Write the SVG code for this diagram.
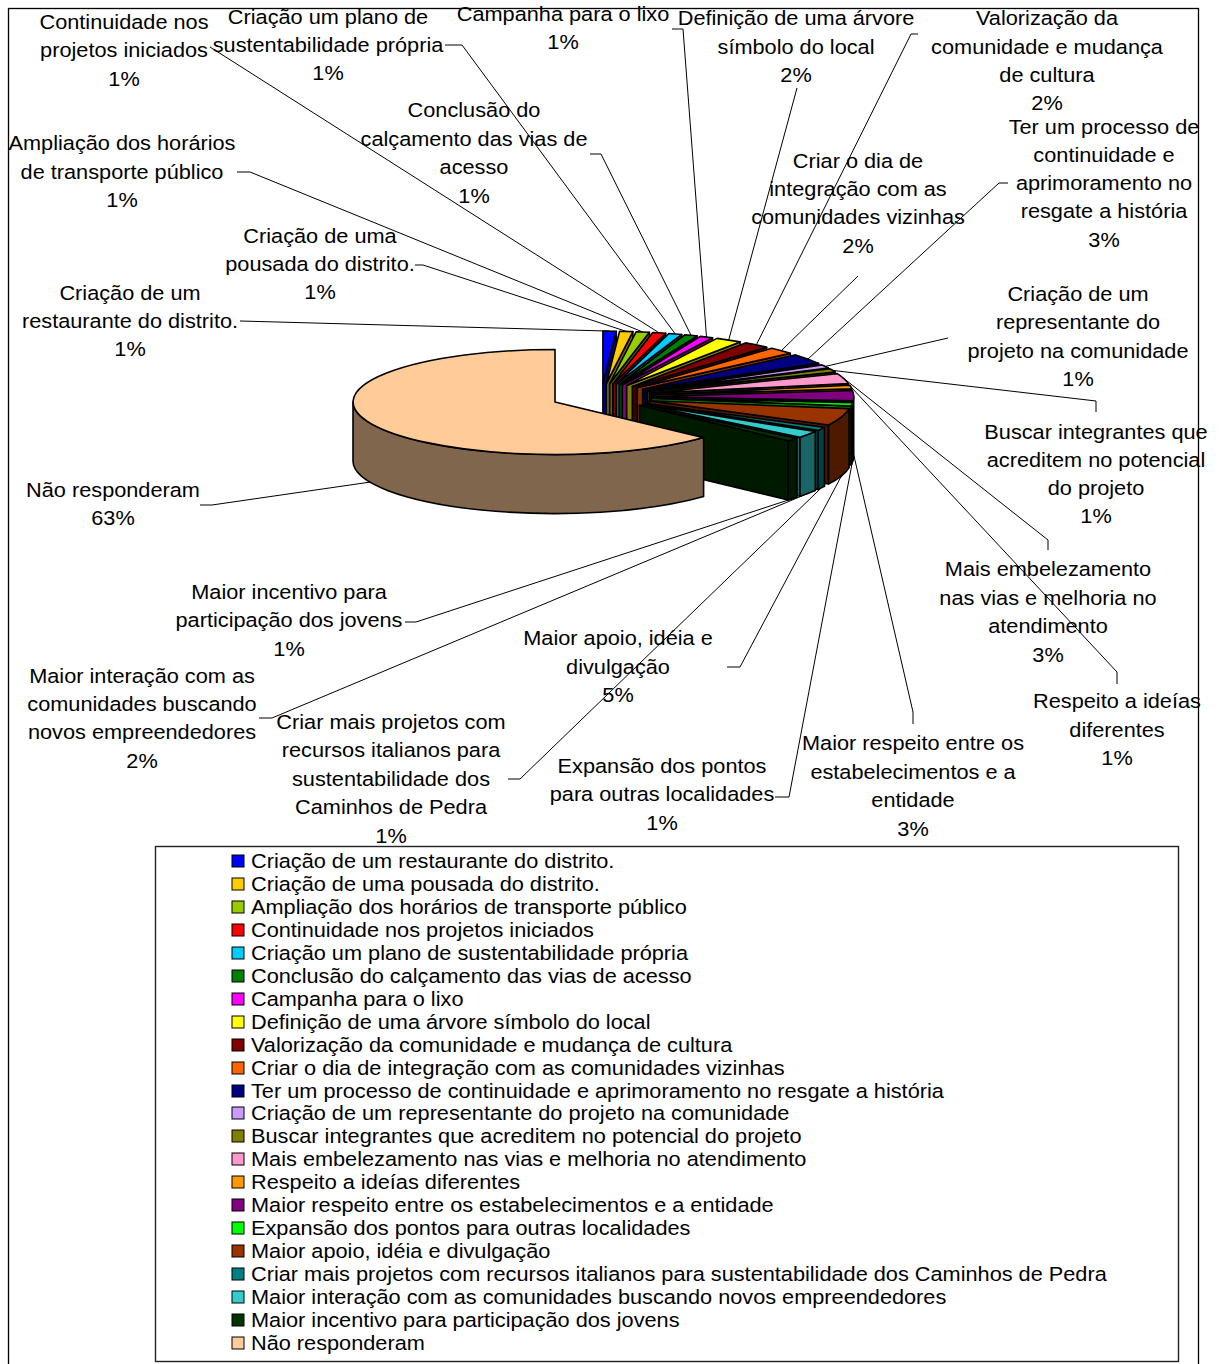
<svg xmlns="http://www.w3.org/2000/svg" width="1221" height="1364" viewBox="0 0 1221 1364">
  <style>
    .t { font-family: "Liberation Sans", Arial, sans-serif; font-size: 20.5px; fill: #000; }
    .c { text-anchor: middle; }
    .pie path { stroke: #000; stroke-width: 1.6; stroke-linejoin: round; }
    .ld { fill: none; stroke: #000; stroke-width: 1; }
    .sw { stroke: #000; stroke-width: 1; }
  </style>

  <rect x="0" y="0" width="1221" height="1364" fill="#fff"/>
  <!-- chart area frame -->
  <rect x="8.5" y="8.5" width="1190" height="1380" fill="none" stroke="#000" stroke-width="1.3"/>

  <!-- 3D exploded pie: each slice = end face, outer wall, top face; drawn back to front -->
  <g class="pie" id="pie">
    <g id="slice-restaurante">
      <path fill="#000080" d="M602.9,383.6 L616.3,331.2 L616.3,390.2 L602.9,442.6 Z"/>
      <path fill="#0000FF" d="M602.9,383.6 L602.9,331.1 A202,52.5 0 0 1 616.3,331.2 Z"/>
    </g>
    <g id="slice-pousada">
      <path fill="#806600" d="M606.3,383.7 L632.9,331.6 L632.9,390.6 L606.3,442.7 Z"/>
      <path fill="#FFCC00" d="M606.3,383.7 L619.6,331.3 A202,52.5 0 0 1 632.9,331.6 Z"/>
    </g>
    <g id="slice-ampliacao">
      <path fill="#4D6600" d="M609.6,383.8 L649.4,332.3 L649.4,391.3 L609.6,442.8 Z"/>
      <path fill="#99CC00" d="M609.6,383.8 L636.2,331.7 A202,52.5 0 0 1 649.4,332.3 Z"/>
    </g>
    <g id="slice-continuidade">
      <path fill="#800000" d="M612.8,384 L665.7,333.3 L665.7,392.3 L612.8,443 Z"/>
      <path fill="#FF0000" d="M612.8,384 L652.7,332.5 A202,52.5 0 0 1 665.7,333.3 Z"/>
    </g>
    <g id="slice-plano">
      <path fill="#006680" d="M616.1,384.2 L681.7,334.5 L681.7,393.5 L616.1,443.2 Z"/>
      <path fill="#00CCFF" d="M616.1,384.2 L668.9,333.5 A202,52.5 0 0 1 681.7,334.5 Z"/>
    </g>
    <g id="slice-calcamento">
      <path fill="#004000" d="M619.2,384.5 L697.3,336 L697.3,395 L619.2,443.5 Z"/>
      <path fill="#008000" d="M619.2,384.5 L684.8,334.8 A202,52.5 0 0 1 697.3,336 Z"/>
    </g>
    <g id="slice-campanha">
      <path fill="#800080" d="M622.3,384.8 L712.5,337.8 L712.5,396.8 L622.3,443.8 Z"/>
      <path fill="#FF00FF" d="M622.3,384.8 L700.4,336.4 A202,52.5 0 0 1 712.5,337.8 Z"/>
    </g>
    <g id="slice-arvore">
      <path fill="#808000" d="M626.7,385.4 L740,341.9 L740,400.9 L626.7,444.4 Z"/>
      <path fill="#FFFF00" d="M626.7,385.4 L717,338.4 A202,52.5 0 0 1 740,341.9 Z"/>
    </g>
    <g id="slice-valorizacao">
      <path fill="#400000" d="M632.3,386.4 L766.6,347.2 L766.6,406.2 L632.3,445.4 Z"/>
      <path fill="#800000" d="M632.3,386.4 L745.5,342.9 A202,52.5 0 0 1 766.6,347.2 Z"/>
    </g>
    <g id="slice-dia-integracao">
      <path fill="#803300" d="M637.3,387.5 L790.3,353.3 L790.3,412.3 L637.3,446.5 Z"/>
      <path fill="#FF6600" d="M637.3,387.5 L771.6,348.3 A202,52.5 0 0 1 790.3,353.3 Z"/>
    </g>
    <g id="slice-processo">
      <path fill="#000040" d="M642.6,389.2 L818.6,363.4 L818.6,422.4 L642.6,448.2 Z"/>
      <path fill="#000080" d="M642.6,389.2 L795.7,354.9 A202,52.5 0 0 1 818.6,363.4 Z"/>
    </g>
    <g id="slice-representante">
      <path fill="#664D80" d="M646.1,390.7 L828.3,368 L828.3,427 L646.1,449.7 Z"/>
      <path fill="#CC99FF" d="M646.1,390.7 L822.1,364.9 A202,52.5 0 0 1 828.3,368 Z"/>
    </g>
    <g id="slice-integrantes">
      <path fill="#404000" d="M647.5,391.5 L835.1,372 L835.1,431 L647.5,450.5 Z"/>
      <path fill="#808000" d="M647.5,391.5 L829.7,368.8 A202,52.5 0 0 1 835.1,372 Z"/>
    </g>
    <g id="slice-embelezamento">
      <path fill="#804D66" d="M649.8,393.1 L848.4,383.6 L848.4,442.6 L649.8,452.1 Z"/>
      <path fill="#FF99CC" d="M649.8,393.1 L837.3,373.6 A202,52.5 0 0 1 848.4,383.6 Z"/>
    </g>
    <g id="slice-respeito-ideias">
      <path fill="#804D00" d="M651.2,394.8 L851.8,388.7 L851.8,447.7 L651.2,453.8 Z"/>
      <path fill="#FF9900" d="M651.2,394.8 L849.9,385.3 A202,52.5 0 0 1 851.8,388.7 Z"/>
    </g>
    <g id="slice-respeito-estabelecimentos">
      <path fill="#400040" d="M651.7,396.5 L853.1,400.9 L853.1,459.9 L651.7,455.5 Z"/>
      <path fill="#400040" d="M853.7,396.5 A202,52.5 0 0 1 853.1,400.9 L853.1,459.9 A202,52.5 0 0 0 853.7,455.5 Z"/>
      <path fill="#800080" d="M651.7,396.5 L852.4,390.5 A202,52.5 0 0 1 853.1,400.9 Z"/>
    </g>
    <g id="slice-expansao">
      <path fill="#008000" d="M651.4,398.3 L851.2,406 L851.2,465 L651.4,457.3 Z"/>
      <path fill="#008000" d="M852.7,402.6 A202,52.5 0 0 1 851.2,406 L851.2,465 A202,52.5 0 0 0 852.7,461.6 Z"/>
      <path fill="#00FF00" d="M651.4,398.3 L852.7,402.6 A202,52.5 0 0 1 851.2,406 Z"/>
    </g>
    <g id="slice-apoio">
      <path fill="#4D1A00" d="M649.3,400.8 L828.5,425 L828.5,484 L649.3,459.8 Z"/>
      <path fill="#4D1A00" d="M849.1,408.6 A202,52.5 0 0 1 828.5,425 L828.5,484 A202,52.5 0 0 0 849.1,467.6 Z"/>
      <path fill="#993300" d="M649.3,400.8 L849.1,408.6 A202,52.5 0 0 1 828.5,425 Z"/>
    </g>
    <g id="slice-italianos">
      <path fill="#004040" d="M645.3,403.2 L817.9,430.4 L817.9,489.4 L645.3,462.2 Z"/>
      <path fill="#004040" d="M824.5,427.4 A202,52.5 0 0 1 817.9,430.4 L817.9,489.4 A202,52.5 0 0 0 824.5,486.4 Z"/>
      <path fill="#008080" d="M645.3,403.2 L824.5,427.4 A202,52.5 0 0 1 817.9,430.4 Z"/>
    </g>
    <g id="slice-interacao">
      <path fill="#1A6666" d="M642.6,404.3 L800,437.2 L800,496.2 L642.6,463.3 Z"/>
      <path fill="#1A6666" d="M815.3,431.5 A202,52.5 0 0 1 800,437.2 L800,496.2 A202,52.5 0 0 0 815.3,490.5 Z"/>
      <path fill="#33CCCC" d="M642.6,404.3 L815.3,431.5 A202,52.5 0 0 1 800,437.2 Z"/>
    </g>
    <g id="slice-incentivo">
      <path fill="#001A00" d="M639.5,405.3 L788.1,440.9 L788.1,499.9 L639.5,464.3 Z"/>
      <path fill="#001A00" d="M796.9,438.2 A202,52.5 0 0 1 788.1,440.9 L788.1,499.9 A202,52.5 0 0 0 796.9,497.2 Z"/>
      <path fill="#003300" d="M639.5,405.3 L796.9,438.2 A202,52.5 0 0 1 788.1,440.9 Z"/>
    </g>
    <g id="slice-nao-responderam">
      <path fill="#80664D" d="M703.6,437.6 A202,52.5 0 0 1 353,402 L353,461 A202,52.5 0 0 0 703.6,496.6 Z"/>
      <path fill="#FFCC99" d="M555,402 L703.6,437.6 A202,52.5 0 1 1 555,349.5 Z"/>
    </g>
  </g>

  <!-- leader lines from data labels to slices -->
  <g id="connectors" class="ld">
    <polyline points="240,321 609.6,331.1"/>
    <polyline points="415,265 423,265 626.3,331.4"/>
    <polyline points="237,172 250,172 642.8,332"/>
    <polyline points="210,47 659.2,332.9"/>
    <polyline points="445,45 462,45 675.3,334"/>
    <polyline points="590,154 601,154 691.1,335.4"/>
    <polyline points="672,29 683,29 706.5,337.1"/>
    <polyline points="797,88 728.7,340.1"/>
    <polyline points="918,34 911,34 756.3,344.9"/>
    <polyline points="858,276 781.3,350.7"/>
    <polyline points="1008,183 999,183 808,359"/>
    <polyline points="948,338 825.3,366.4"/>
    <polyline points="1096,412 1096,401 832.5,370.4"/>
    <polyline points="1048,550 1048,540 843.9,378.5"/>
    <polyline points="1117,684 1117,672 851,387"/>
    <polyline points="913,724 913,712 853.7,454.6"/>
    <polyline points="775,797 789,797 852.1,463.3"/>
    <polyline points="727,667 740,667 841.4,476"/>
    <polyline points="508,779 520,779 821.3,487.9"/>
    <polyline points="259,718 272,718 808,493.4"/>
    <polyline points="405,622 416,622 792.6,498.6"/>
    <polyline points="200,505 212,505 370,482.1"/>
  </g>

  <!-- data labels -->
  <g id="labels" class="t c" transform="translate(0,1)">
    <g id="label-restaurante" transform="translate(130,0) scale(1.06,1)"><text><tspan x="0" y="299.5">Criação de um</tspan><tspan x="0" y="327.5">restaurante do distrito.</tspan><tspan x="0" y="355.5">1%</tspan></text></g>
    <g id="label-pousada" transform="translate(320,0) scale(1.06,1)"><text><tspan x="0" y="242.5">Criação de uma</tspan><tspan x="0" y="270.5">pousada do distrito.</tspan><tspan x="0" y="298.5">1%</tspan></text></g>
    <g id="label-ampliacao" transform="translate(122,0) scale(1.06,1)"><text><tspan x="0" y="149.5">Ampliação dos horários</tspan><tspan x="0" y="178.5">de transporte público</tspan><tspan x="0" y="206.5">1%</tspan></text></g>
    <g id="label-continuidade" transform="translate(124,0) scale(1.06,1)"><text><tspan x="0" y="28.5">Continuidade nos</tspan><tspan x="0" y="56.5">projetos iniciados</tspan><tspan x="0" y="85.5">1%</tspan></text></g>
    <g id="label-plano" transform="translate(328,0) scale(1.06,1)"><text><tspan x="0" y="23.5">Criação um plano de</tspan><tspan x="0" y="51.5">sustentabilidade própria</tspan><tspan x="0" y="79.5">1%</tspan></text></g>
    <g id="label-calcamento" transform="translate(474,0) scale(1.06,1)"><text><tspan x="0" y="116.5">Conclusão do</tspan><tspan x="0" y="145.5">calçamento das vias de</tspan><tspan x="0" y="173.5">acesso</tspan><tspan x="0" y="202.5">1%</tspan></text></g>
    <g id="label-campanha" transform="translate(563,0) scale(1.06,1)"><text><tspan x="0" y="20.5">Campanha para o lixo</tspan><tspan x="0" y="48.5">1%</tspan></text></g>
    <g id="label-arvore" transform="translate(796,0) scale(1.06,1)"><text><tspan x="0" y="24.5">Definição de uma árvore</tspan><tspan x="0" y="53.5">símbolo do local</tspan><tspan x="0" y="81.5">2%</tspan></text></g>
    <g id="label-valorizacao" transform="translate(1047,0) scale(1.06,1)"><text><tspan x="0" y="24.5">Valorização da</tspan><tspan x="0" y="53.5">comunidade e mudança</tspan><tspan x="0" y="81.5">de cultura</tspan><tspan x="0" y="109.5">2%</tspan></text></g>
    <g id="label-dia-integracao" transform="translate(858,0) scale(1.06,1)"><text><tspan x="0" y="167.5">Criar o dia de</tspan><tspan x="0" y="195.5">integração com as</tspan><tspan x="0" y="223.5">comunidades vizinhas</tspan><tspan x="0" y="252.5">2%</tspan></text></g>
    <g id="label-processo" transform="translate(1104,0) scale(1.06,1)"><text><tspan x="0" y="133.5">Ter um processo de</tspan><tspan x="0" y="161.5">continuidade e</tspan><tspan x="0" y="189.5">aprimoramento no</tspan><tspan x="0" y="217.5">resgate a história</tspan><tspan x="0" y="246.5">3%</tspan></text></g>
    <g id="label-representante" transform="translate(1078,0) scale(1.06,1)"><text><tspan x="0" y="300.5">Criação de um</tspan><tspan x="0" y="328.5">representante do</tspan><tspan x="0" y="357.5">projeto na comunidade</tspan><tspan x="0" y="385.5">1%</tspan></text></g>
    <g id="label-integrantes" transform="translate(1096,0) scale(1.06,1)"><text><tspan x="0" y="438.5">Buscar integrantes que</tspan><tspan x="0" y="466.5">acreditem no potencial</tspan><tspan x="0" y="494.5">do projeto</tspan><tspan x="0" y="522.5">1%</tspan></text></g>
    <g id="label-embelezamento" transform="translate(1048,0) scale(1.06,1)"><text><tspan x="0" y="575.5">Mais embelezamento</tspan><tspan x="0" y="604.5">nas vias e melhoria no</tspan><tspan x="0" y="632.5">atendimento</tspan><tspan x="0" y="661.5">3%</tspan></text></g>
    <g id="label-respeito-ideias" transform="translate(1117,0) scale(1.06,1)"><text><tspan x="0" y="707.5">Respeito a ideías</tspan><tspan x="0" y="736.5">diferentes</tspan><tspan x="0" y="764.5">1%</tspan></text></g>
    <g id="label-respeito-estabelecimentos" transform="translate(913,0) scale(1.06,1)"><text><tspan x="0" y="749.5">Maior respeito entre os</tspan><tspan x="0" y="778.5">estabelecimentos e a</tspan><tspan x="0" y="806.5">entidade</tspan><tspan x="0" y="835.5">3%</tspan></text></g>
    <g id="label-expansao" transform="translate(662,0) scale(1.06,1)"><text><tspan x="0" y="772.5">Expansão dos pontos</tspan><tspan x="0" y="800.5">para outras localidades</tspan><tspan x="0" y="829.5">1%</tspan></text></g>
    <g id="label-apoio" transform="translate(618,0) scale(1.06,1)"><text><tspan x="0" y="644.5">Maior apoio, idéia e</tspan><tspan x="0" y="673.5">divulgação</tspan><tspan x="0" y="701.5">5%</tspan></text></g>
    <g id="label-italianos" transform="translate(391,0) scale(1.06,1)"><text><tspan x="0" y="728.5">Criar mais projetos com</tspan><tspan x="0" y="756.5">recursos italianos para</tspan><tspan x="0" y="785.5">sustentabilidade dos</tspan><tspan x="0" y="813.5">Caminhos de Pedra</tspan><tspan x="0" y="842.5">1%</tspan></text></g>
    <g id="label-interacao" transform="translate(142,0) scale(1.06,1)"><text><tspan x="0" y="682.5">Maior interação com as</tspan><tspan x="0" y="710.5">comunidades buscando</tspan><tspan x="0" y="738.5">novos empreendedores</tspan><tspan x="0" y="767.5">2%</tspan></text></g>
    <g id="label-incentivo" transform="translate(289,0) scale(1.06,1)"><text><tspan x="0" y="598.5">Maior incentivo para</tspan><tspan x="0" y="626.5">participação dos jovens</tspan><tspan x="0" y="655.5">1%</tspan></text></g>
    <g id="label-nao-responderam" transform="translate(113,0) scale(1.06,1)"><text><tspan x="0" y="496.5">Não responderam</tspan><tspan x="0" y="524.5">63%</tspan></text></g>
  </g>

  <!-- legend -->
  <g id="legend">
    <rect x="155.5" y="846.5" width="1023" height="515" fill="#fff" stroke="#222" stroke-width="1.4"/>
    <g class="sw">
      <rect x="232" y="855" width="12" height="12" fill="#0000FF"/>
      <rect x="232" y="878" width="12" height="12" fill="#FFCC00"/>
      <rect x="232" y="901" width="12" height="12" fill="#99CC00"/>
      <rect x="232" y="924" width="12" height="12" fill="#FF0000"/>
      <rect x="232" y="947" width="12" height="12" fill="#00CCFF"/>
      <rect x="232" y="970" width="12" height="12" fill="#008000"/>
      <rect x="232" y="993" width="12" height="12" fill="#FF00FF"/>
      <rect x="232" y="1016" width="12" height="12" fill="#FFFF00"/>
      <rect x="232" y="1039" width="12" height="12" fill="#800000"/>
      <rect x="232" y="1062" width="12" height="12" fill="#FF6600"/>
      <rect x="232" y="1085" width="12" height="12" fill="#000080"/>
      <rect x="232" y="1107" width="12" height="12" fill="#CC99FF"/>
      <rect x="232" y="1130" width="12" height="12" fill="#808000"/>
      <rect x="232" y="1153" width="12" height="12" fill="#FF99CC"/>
      <rect x="232" y="1176" width="12" height="12" fill="#FF9900"/>
      <rect x="232" y="1199" width="12" height="12" fill="#800080"/>
      <rect x="232" y="1222" width="12" height="12" fill="#00FF00"/>
      <rect x="232" y="1245" width="12" height="12" fill="#993300"/>
      <rect x="232" y="1268" width="12" height="12" fill="#008080"/>
      <rect x="232" y="1291" width="12" height="12" fill="#33CCCC"/>
      <rect x="232" y="1314" width="12" height="12" fill="#003300"/>
      <rect x="232" y="1337" width="12" height="12" fill="#FFCC99"/>
    </g>
    <g class="t" transform="translate(251,0.5) scale(1.06,1)">
      <text x="0" y="867.5">Criação de um restaurante do distrito.</text>
      <text x="0" y="890.5">Criação de uma pousada do distrito.</text>
      <text x="0" y="913.5">Ampliação dos horários de transporte público</text>
      <text x="0" y="936.5">Continuidade nos projetos iniciados</text>
      <text x="0" y="959.5">Criação um plano de sustentabilidade própria</text>
      <text x="0" y="982.5">Conclusão do calçamento das vias de acesso</text>
      <text x="0" y="1005.5">Campanha para o lixo</text>
      <text x="0" y="1028.5">Definição de uma árvore símbolo do local</text>
      <text x="0" y="1051.5">Valorização da comunidade e mudança de cultura</text>
      <text x="0" y="1074.5">Criar o dia de integração com as comunidades vizinhas</text>
      <text x="0" y="1097.5">Ter um processo de continuidade e aprimoramento no resgate a história</text>
      <text x="0" y="1120">Criação de um representante do projeto na comunidade</text>
      <text x="0" y="1143">Buscar integrantes que acreditem no potencial do projeto</text>
      <text x="0" y="1166">Mais embelezamento nas vias e melhoria no atendimento</text>
      <text x="0" y="1189">Respeito a ideías diferentes</text>
      <text x="0" y="1212">Maior respeito entre os estabelecimentos e a entidade</text>
      <text x="0" y="1235">Expansão dos pontos para outras localidades</text>
      <text x="0" y="1258">Maior apoio, idéia e divulgação</text>
      <text x="0" y="1281">Criar mais projetos com recursos italianos para sustentabilidade dos Caminhos de Pedra</text>
      <text x="0" y="1304">Maior interação com as comunidades buscando novos empreendedores</text>
      <text x="0" y="1327">Maior incentivo para participação dos jovens</text>
      <text x="0" y="1350">Não responderam</text>
    </g>
  </g>
</svg>
